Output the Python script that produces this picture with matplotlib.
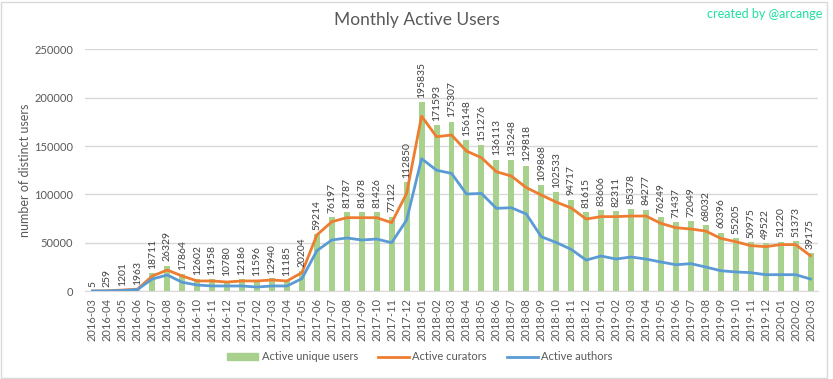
import matplotlib
matplotlib.use("Agg")
import matplotlib.pyplot as plt
from matplotlib.patches import Rectangle
from matplotlib.lines import Line2D
from matplotlib.patches import Patch
import numpy as np

plt.rcParams['font.family'] = ['Lato', 'DejaVu Sans']

# months 2016-03 .. 2020-03
months = []
for y in range(2016, 2021):
    for m in range(1, 13):
        if (y == 2016 and m < 3) or (y == 2020 and m > 3):
            continue
        months.append(f"{y}-{m:02d}")

unique_users = [5, 259, 1201, 1963, 18711, 26329, 17864, 12602, 11958, 10780,
                12186, 11596, 12940, 11185, 20204, 59214, 76197, 81787, 81678, 81426,
                77122, 112850, 195835, 171593, 175307, 156148, 151276, 136113, 135248, 129818,
                109868, 102533, 94717, 81615, 83606, 82311, 85378, 84277, 76249, 71437,
                72049, 68032, 60396, 55205, 50975, 49522, 51220, 51373, 39175]

curators = [5, 200, 1000, 1800, 15500, 21700, 15500, 10400, 10400, 9300,
            10400, 10400, 11400, 10400, 19000, 58000, 71700, 75900, 75900, 75900,
            70700, 101000, 181000, 159700, 161500, 144900, 138000, 123500, 119000, 107000,
            99400, 92000, 86000, 74500, 77000, 77000, 77600, 77600, 70000, 65500,
            64200, 62000, 54500, 51000, 47000, 45900, 48000, 48000, 36500]

authors = [3, 100, 500, 1500, 12400, 16600, 9000, 6200, 5200, 5200,
           5200, 4100, 5200, 5200, 12800, 41700, 52800, 54900, 52800, 53800,
           50000, 73500, 137000, 125000, 121800, 100400, 101000, 85600, 86200, 79700,
           56200, 50200, 43100, 32000, 36200, 33100, 35200, 33100, 30000, 27200,
           28300, 24800, 21000, 19700, 19000, 16900, 16900, 16900, 12400]

green = '#A9D18E'
orange = '#ED7D31'
blue = '#5B9BD5'
grey = '#595959'

fig = plt.figure(figsize=(8.33, 3.79), dpi=100)
ax = fig.add_axes([85/833, 1 - 291/379, 733/833, (291 - 49.5)/379])

x = np.arange(len(months))
ax.bar(x, unique_users, width=0.4, color=green, zorder=2)
ax.plot(x, curators, color=orange, lw=2, zorder=3)
ax.plot(x, authors, color=blue, lw=2, zorder=3)

for i, v in enumerate(unique_users):
    ax.annotate(str(v), (i, v), xytext=(0, 3), textcoords='offset points',
                rotation=90, ha='center', va='bottom', fontsize=7.5, color='#404040', zorder=4)

ax.set_xlim(-0.5, len(months) - 0.5)
ax.set_ylim(0, 250000)
ax.set_yticks(range(0, 250001, 50000))
ax.set_xticks(x)
ax.set_xticklabels(months, rotation=90, fontsize=8, color=grey)
ax.tick_params(axis='y', labelsize=8, colors=grey, length=0, pad=8.5)
ax.tick_params(axis='x', length=0, pad=5)
ax.grid(axis='y', color='#D9D9D9', lw=1, zorder=0)
ax.set_axisbelow(True)
for s in ['top', 'right', 'left']:
    ax.spines[s].set_visible(False)
ax.spines['bottom'].set_color('#D9D9D9')

ax.set_ylabel('number of distinct users', fontsize=9, color=grey)
ax.yaxis.set_label_coords(-0.073, 0.5)

fig.text(0.5, 1 - 20/379, 'Monthly Active Users', ha='center', va='center',
         fontsize=12.5, color=grey)
fig.text(822/833, 1 - 14/379, 'created by @arcange', ha='right', va='center',
         fontsize=9, color='#1DE0A0')

handles = [Patch(color=green, label='Active unique users'),
           Line2D([], [], color=orange, lw=2, label='Active curators'),
           Line2D([], [], color=blue, lw=2, label='Active authors')]
leg = fig.legend(handles=handles, loc='center', bbox_to_anchor=(420/833, 1 - 357/379),
                 ncol=3, frameon=False, fontsize=8, handlelength=2.8, handleheight=0.6,
                 handletextpad=0.3, columnspacing=1.8)
for t in leg.get_texts():
    t.set_color(grey)

fig.patches.append(Rectangle((1/833, 1/379), 826/833, 376/379, transform=fig.transFigure,
                             fill=False, edgecolor='#D9D9D9', lw=1))

fig.savefig('out.png', dpi=100)
